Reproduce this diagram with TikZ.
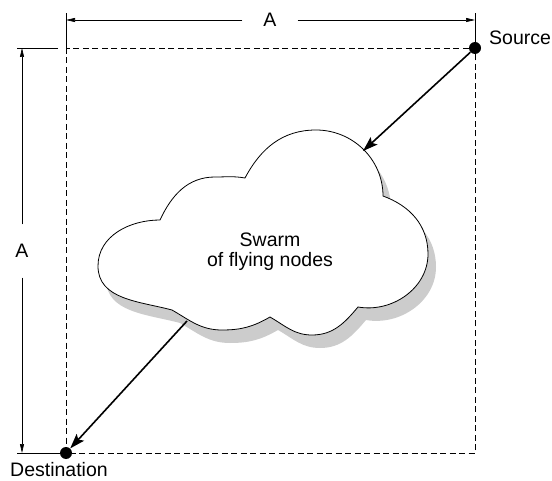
\documentclass[tikz,border=0pt]{standalone}
\usepackage{fontspec}
\setmainfont{Liberation Sans}
\usetikzlibrary{arrows.meta}

% outline of the swarm cloud, puff by puff
\newcommand{\swarmcloud}{(172,170) to[out=165,in=270] (98,214) to[out=90,in=180] (160,260)
    to[out=65,in=180] (215,303) to[out=0,in=170] (245,302)
    to[out=62,in=180] (316,350) to[out=0,in=90] (383,284)
    to[out=-20,in=90] (428,226) to[out=-90,in=-10] (358,173)
    to[out=-130,in=0] (312,145) to[out=180,in=-30] (270,163)
    to[out=-150,in=0] (222,150) to[out=180,in=-30] (172,170) -- cycle}

\begin{document}
\begin{tikzpicture}[x=1pt, y=1pt,
     dimline/.style = {line width=0.7pt, -{Triangle[length=9pt,width=4pt]}},
     extline/.style = {line width=0.7pt},
    fieldbox/.style = {line width=0.8pt, dash pattern=on 6pt off 3.5pt},
        flow/.style = {line width=1.6pt, -{Stealth[length=15pt,width=10pt,inset=3pt]}},
    endpoint/.style = {circle, fill, inner sep=0pt, minimum size=12pt},
         txt/.style = {font=\fontsize{19.5}{20}\selectfont, inner sep=0pt}
                    ]
\useasboundingbox (0,0) rectangle (552,480);
% field
    \coordinate (nw) at (66,432);
    \coordinate (se) at (475,27);
    \draw[fieldbox] (nw) rectangle (se);
% extension lines
    \draw[extline] (nw) -- (66,467);
    \draw[extline] (475,432) -- (475,467);
    \draw[extline] (58,432) -- (17,432);
    \draw[extline] (66,27) -- (17,27);
% dimensions
    \node[txt, minimum width=55pt] (widthA) at (270,460) {A};
    \draw[dimline] (widthA) -- (widthA -| nw);
    \draw[dimline] (widthA) -- (widthA -| se);
    \node[txt, minimum height=53pt] (heightA) at (22,229) {A};
    \draw[dimline] (heightA) -- (heightA |- nw);
    \draw[dimline] (heightA) -- (heightA |- se);
% swarm
    \fill[gray!40, shift={(8,-13)}] \swarmcloud;
    \draw[line width=0.8pt, fill=white] \swarmcloud;
    \node[txt, align=center] (swarm) at (270,228) {Swarm\\of flying nodes};
% end points
    \node[endpoint] (src) at (475,432) {};
    \node[endpoint] (dst) at (66,27) {};
    \node[txt, anchor=base west] (srclabel) at (489,435) {Source};
    \node[txt, anchor=base] (dstlabel) at (59,4) {Destination};
% route through the swarm
    \coordinate (inflow) at (363,329);
    \coordinate (outflow) at (187,159);
    \draw[flow] (src) -- (inflow);
    \draw[flow] (outflow) -- (dst);
\end{tikzpicture}
\end{document}
